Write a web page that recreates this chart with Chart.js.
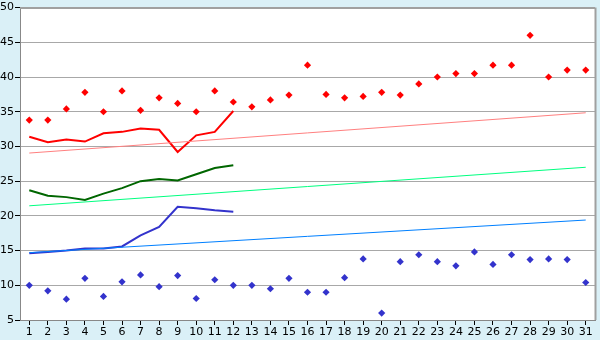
<!DOCTYPE html>
<html><head><meta charset="utf-8">
<script src="https://cdn.jsdelivr.net/npm/chart.js@4/dist/chart.umd.min.js"></script>
<style>html,body{margin:0;padding:0;background:#DAF0F7;}#c{display:block;}</style>
</head><body>
<canvas id="c" width="600" height="340"></canvas>
<script>
const categories = ['1','2','3','4','5','6','7','8','9','10','11','12','13','14','15','16','17','18','19','20','21','22','23','24','25','26','27','28','29','30','31'];
const yTicks = [5,10,15,20,25,30,35,40,45,50];
const redPoints = [33.8,33.8,35.4,37.8,35.0,38.0,35.2,37.0,36.2,35.0,38.0,36.4,35.7,36.7,37.4,41.7,37.5,37.0,37.2,37.8,37.4,39.0,40.0,40.5,40.5,41.7,41.7,46.0,40.0,41.0,41.0];
const bluePoints = [10.0,9.2,8.0,11.0,8.4,10.5,11.5,9.8,11.4,8.1,10.8,10.0,10.0,9.5,11.0,9.0,9.0,11.1,13.8,6.0,13.4,14.4,13.4,12.8,14.8,13.0,14.4,13.7,13.8,13.7,10.4];
const redLine = [31.4,30.6,31.0,30.7,31.9,32.1,32.6,32.4,29.2,31.6,32.1,35.1];
const greenLine = [23.7,22.9,22.7,22.3,23.2,24.0,25.0,25.3,25.1,26.0,26.9,27.3];
const blueLine = [14.6,14.8,15.0,15.3,15.3,15.6,17.2,18.4,21.3,21.1,20.8,20.6];
const redTrendEnds = [29.05,34.85];
const greenTrendEnds = [21.45,27.0];
const blueTrendEnds = [14.7,19.4];

function ends(e){ const a = categories.map(()=>null); a[0]=e[0]; a[a.length-1]=e[1]; return a; }

const bgPlugin = {
  id:'bg',
  beforeDraw(chart){
    const {ctx, chartArea:a} = chart;
    ctx.save();
    ctx.fillStyle='#DAF0F7';
    ctx.fillRect(0,0,chart.width,chart.height);
    ctx.fillStyle='#FFFFFF';
    ctx.fillRect(a.left,a.top,a.right-a.left,a.bottom-a.top);
    ctx.restore();
  },
  afterDraw(chart){
    const {ctx, chartArea:a} = chart;
    ctx.save();
    ctx.strokeStyle='#A0A0A0';
    ctx.lineWidth=2;
    ctx.beginPath();
    ctx.moveTo(a.left,a.top+0.5); ctx.lineTo(a.right,a.top+0.5);
    ctx.moveTo(a.right+0.5,a.top); ctx.lineTo(a.right+0.5,a.bottom);
    ctx.stroke();
    ctx.restore();
  }
};

new Chart(document.getElementById('c'), {
  type:'line',
  data:{
    labels:categories,
    datasets:[
      {data:ends(redTrendEnds), borderColor:'#FF8080', borderWidth:1, pointRadius:0, spanGaps:true, tension:0},
      {data:ends(greenTrendEnds), borderColor:'#00FF80', borderWidth:1, pointRadius:0, spanGaps:true, tension:0},
      {data:ends(blueTrendEnds), borderColor:'#0080FF', borderWidth:1, pointRadius:0, spanGaps:true, tension:0},
      {data:redLine, borderColor:'#FF0000', borderWidth:2, pointRadius:0, tension:0},
      {data:greenLine, borderColor:'#006600', borderWidth:2, pointRadius:0, tension:0},
      {data:blueLine, borderColor:'#3333CC', borderWidth:2, pointRadius:0, tension:0},
      {data:redPoints, showLine:false, pointStyle:'rectRot', pointRadius:3.6, backgroundColor:'#FF0000', borderColor:'#FF0000', borderWidth:0},
      {data:bluePoints, showLine:false, pointStyle:'rectRot', pointRadius:3.6, backgroundColor:'#3333CC', borderColor:'#3333CC', borderWidth:0}
    ]
  },
  options:{
    responsive:false, animation:false,
    layout:{padding:{top:5,right:5,left:0,bottom:0}},
    plugins:{legend:{display:false}, tooltip:{enabled:false}},
    scales:{
      x:{
        offset:true,
        grid:{display:true, offset:false, drawOnChartArea:false, drawTicks:true, tickLength:5, color:'#000000'},
        border:{display:true, color:'#888888', width:1},
        ticks:{color:'#000', font:{family:'DejaVu Sans', size:11}, padding:1, maxRotation:0, autoSkip:false},
        afterFit(s){ s.height=20; }
      },
      y:{
        min:5, max:50,
        afterBuildTicks(s){ s.ticks = yTicks.map(v=>({value:v})); },
        grid:{color:'#A8A8A8', tickLength:5, tickColor:'#000000'},
        border:{display:true, color:'#888888', width:1},
        ticks:{color:'#000', font:{family:'DejaVu Sans', size:11}, padding:1},
        afterFit(s){ s.width=20; }
      }
    }
  },
  plugins:[bgPlugin]
});
</script>
</body></html>
